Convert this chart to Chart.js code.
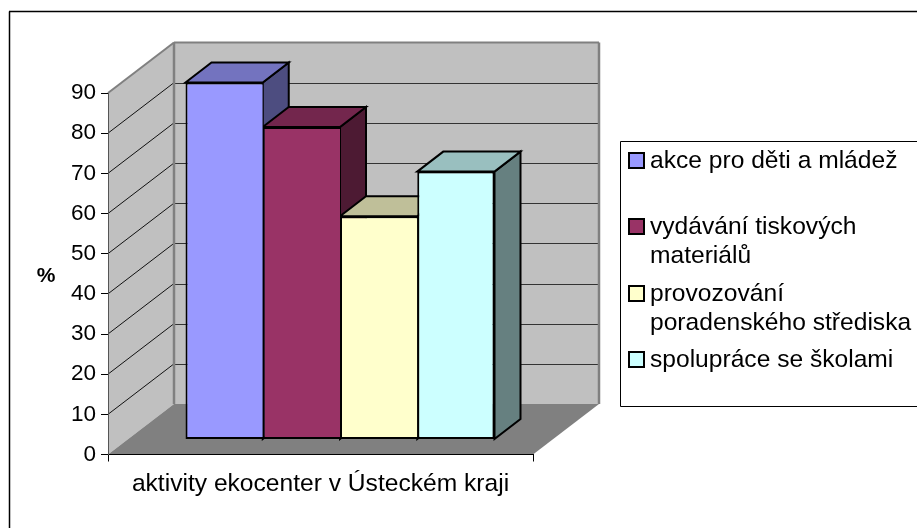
<!DOCTYPE html>
<html><head><meta charset="utf-8">
<style>html,body{margin:0;padding:0;background:#fff}canvas{display:block}</style>
<script src="https://cdn.jsdelivr.net/npm/chart.js@4"></script>
</head><body><canvas id="c" width="917" height="528"></canvas>
<script>
const categories = ['aktivity ekocenter v Ústeckém kraji'];
const seriesLines = [['akce pro děti a mládež'],['vydávání tiskových','materiálů'],['provozování','poradenského střediska'],['spolupráce se školami']];
const seriesValues = [88.9, 77.8, 55.6, 66.7];
const seriesColors = ['#9999FF','#993366','#FFFFCC','#CCFFFF'];
const topColors = ['#7373BF','#73264D','#BFBF99','#99BFBF'];
const sideColors = ['#4D4D80','#4D1A33','#808066','#668080'];
const yTicks = [0,10,20,30,40,50,60,70,80,90];
const yTitle = '%';

const FONT = '"Liberation Sans", Arial, sans-serif';
const FS = 24.6;
const TICK_FS = 22.5;
const WALL = {dx:66, dy:-50.5};      // depth of the chart box
const BAR_SHIFT = {dx:19.5, dy:-15}; // bars stand inside the box
const BAR_DEPTH = {dx:26, dy:-20};

function poly(ctx, pts, fill, stroke, lw){
  ctx.beginPath();
  pts.forEach((p,i)=> i?ctx.lineTo(p[0],p[1]):ctx.moveTo(p[0],p[1]));
  ctx.closePath();
  if(fill){ctx.fillStyle=fill;ctx.fill();}
  if(stroke){ctx.strokeStyle=stroke;ctx.lineWidth=lw;ctx.lineJoin='miter';ctx.stroke();}
}
function line(ctx,x1,y1,x2,y2,c,w){
  ctx.beginPath();ctx.moveTo(x1,y1);ctx.lineTo(x2,y2);ctx.strokeStyle=c;ctx.lineWidth=w;ctx.stroke();
}
const box3d = {
  id:'box3d',
  beforeDraw(chart){
    const ctx=chart.ctx, a=chart.chartArea, y=chart.scales.y, d=WALL;
    const L=a.left, R=a.right, T=y.getPixelForValue(90), B=y.getPixelForValue(0);
    ctx.save();
    ctx.fillStyle='#fff';ctx.fillRect(0,0,chart.width,chart.height);
    // outer frame
    line(ctx,9.5,528,9.5,11.5,'#000',1.5);
    line(ctx,9,11.5,917,11.5,'#000',1.5);
    // walls
    poly(ctx,[[L,B],[L,T],[L+d.dx,T+d.dy],[L+d.dx,B+d.dy]],'#C0C0C0');
    poly(ctx,[[L+d.dx,B+d.dy],[L+d.dx,T+d.dy],[R+d.dx,T+d.dy],[R+d.dx,B+d.dy]],'#C0C0C0');
    // gridlines
    yTicks.forEach(v=>{
      const p=y.getPixelForValue(v);
      if(v>0&&v<90){
        line(ctx,L,p,L+d.dx,p+d.dy,'#111',1);
        line(ctx,L+d.dx,Math.round(p+d.dy)+.5,R+d.dx,Math.round(p+d.dy)+.5,'#333',1);
      }
    });
    // wall edges
    line(ctx,L,T,L+d.dx,T+d.dy,'#808080',2);
    line(ctx,L+d.dx,T+d.dy,R+d.dx,T+d.dy,'#808080',2);
    line(ctx,L+d.dx,T+d.dy,L+d.dx,B+d.dy,'#808080',2.5);
    line(ctx,R+d.dx,T+d.dy,R+d.dx,B+d.dy,'#808080',2.5);
    // floor
    poly(ctx,[[L,B],[L+d.dx,B+d.dy],[R+d.dx,B+d.dy],[R,B]],'#808080');
    // y axis title
    ctx.fillStyle='#000';ctx.font='bold 21px '+FONT;ctx.textAlign='center';ctx.textBaseline='middle';
    ctx.fillText(yTitle,46,276);
    // legend
    const lx=620.5, ltop=141.5, lbot=406.5, rowH=66.3, lh=29;
    ctx.lineWidth=1;ctx.strokeStyle='#000';
    ctx.beginPath();ctx.moveTo(917,ltop);ctx.lineTo(lx,ltop);ctx.lineTo(lx,lbot);ctx.lineTo(917,lbot);ctx.stroke();
    ctx.font=FS+'px '+FONT;ctx.textAlign='left';ctx.textBaseline='middle';
    seriesLines.forEach((lines,i)=>{
      const top=Math.round(152+rowH*i);
      ctx.fillStyle='#000';ctx.fillRect(628,top,17,17);
      ctx.fillStyle=seriesColors[i];ctx.fillRect(630,top+2,13,13);
      ctx.fillStyle='#000';
      lines.forEach((t,j)=>ctx.fillText(t,650,top+9+j*lh));
    });
    ctx.restore();
  },
  beforeDatasetsDraw(chart){
    const ctx=chart.ctx, s=BAR_SHIFT, b=BAR_DEPTH;
    ctx.save();
    chart.data.datasets.forEach((ds,i)=>{
      const el=chart.getDatasetMeta(i).data[0];
      const x0=el.x-el.width/2+s.dx, x1=el.x+el.width/2+s.dx, t=el.y+s.dy, bt=el.base+s.dy;
      poly(ctx,[[x1,t],[x1+b.dx,t+b.dy],[x1+b.dx,bt+b.dy],[x1,bt]],sideColors[i],'#000',2);
      poly(ctx,[[x0,t],[x0+b.dx,t+b.dy],[x1+b.dx,t+b.dy],[x1,t]],topColors[i],'#000',2);
    });
    ctx.restore();
  },
  beforeDatasetDraw(chart){
    chart.ctx.save();chart.ctx.translate(BAR_SHIFT.dx,BAR_SHIFT.dy);
  },
  afterDatasetDraw(chart){ chart.ctx.restore(); }
};
new Chart(document.getElementById('c'),{
  type:'bar',
  plugins:[box3d],
  data:{
    labels:categories,
    datasets:seriesValues.map((v,i)=>({
      label:seriesLines[i].join(' '),
      data:[v],
      backgroundColor:seriesColors[i],
      borderColor:'#000',
      borderWidth:{top:2,bottom:2,left:2,right:i===seriesValues.length-1?2:0},
      borderSkipped:false,
      categoryPercentage:309/425,
      barPercentage:1,
      clip:false
    }))
  },
  options:{
    responsive:false,animation:false,
    layout:{padding:{left:0,top:93,right:384,bottom:0}},
    plugins:{legend:{display:false},tooltip:{enabled:false},title:{display:false}},
    scales:{
      x:{
        afterFit(s){s.height=73.5;},
        grid:{offset:true,drawOnChartArea:false,tickLength:7,color:'#000',lineWidth:1},
        border:{color:'#000',width:1},
        ticks:{color:'#000',font:{family:FONT,size:FS},padding:8,maxRotation:0}
      },
      y:{
        afterFit(s){s.width=108;},
        min:0,max:90,
        afterBuildTicks(s){s.ticks=yTicks.map(v=>({value:v}));},
        grid:{drawOnChartArea:false,tickLength:7,color:'#000',lineWidth:1},
        border:{color:'#555',width:1},
        ticks:{color:'#000',font:{family:FONT,size:TICK_FS},padding:5}
      }
    }
  }
});
</script></body></html>
